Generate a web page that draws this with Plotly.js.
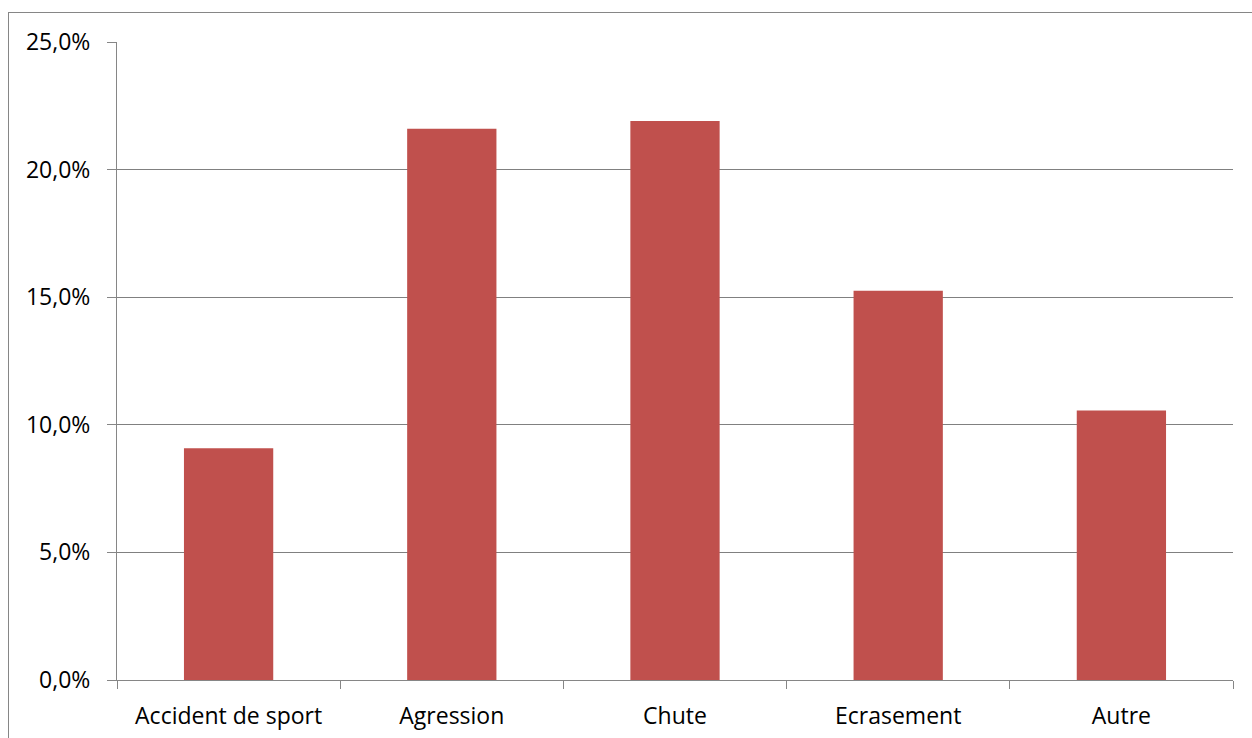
<!DOCTYPE html>
<html>
<head>
<meta charset="utf-8">
<script src="https://cdn.plot.ly/plotly-3.0.1.min.js"></script>
<style>
html,body{margin:0;padding:0;background:#fff;overflow:hidden;}
#frame{position:absolute;left:8px;top:12px;width:1260px;height:740px;border-left:1px solid #868686;border-top:1px solid #868686;}
#chart{position:absolute;left:0;top:0;width:1252px;height:738px;}
</style>
</head>
<body>
<div id="frame"></div>
<div id="chart"></div>
<script>
const categories = ["Accident de sport", "Agression", "Chute", "Ecrasement", "Autre"];
const values = [0.0908, 0.216, 0.219, 0.1525, 0.1056];
const yTicks = [0, 0.05, 0.10, 0.15, 0.20, 0.25];

const trace = {
  type: "bar",
  x: categories,
  y: values,
  marker: {color: "#C0504D"},
  hoverinfo: "x+y"
};

const axisColor = "#868686";
const font = {family: "'Open Sans', 'Liberation Sans', sans-serif", size: 23, color: "#000"};

const layout = {
  width: 1252,
  height: 738,
  margin: {l: 117, r: 19, t: 41.5, b: 58},
  paper_bgcolor: "rgba(0,0,0,0)",
  plot_bgcolor: "rgba(0,0,0,0)",
  separators: ", ",
  bargap: 0.6,
  showlegend: false,
  font: font,
  xaxis: {
    type: "category",
    showline: true,
    linecolor: axisColor,
    linewidth: 1,
    ticks: "outside",
    tickson: "boundaries",
    ticklen: 8,
    tickcolor: axisColor,
    showgrid: false,
    tickfont: font,
    ticklabelstandoff: 15
  },
  yaxis: {
    range: [0, 0.25],
    tickvals: yTicks,
    tickformat: ".1%",
    showline: true,
    linecolor: axisColor,
    linewidth: 1,
    ticks: "outside",
    ticklen: 9,
    tickcolor: axisColor,
    showgrid: true,
    gridcolor: "#808080",
    gridwidth: 1.2,
    zeroline: false,
    tickfont: font,
    ticklabelstandoff: 12
  }
};

Plotly.newPlot("chart", [trace], layout, {displayModeBar: false, staticPlot: true});
</script>
</body>
</html>
